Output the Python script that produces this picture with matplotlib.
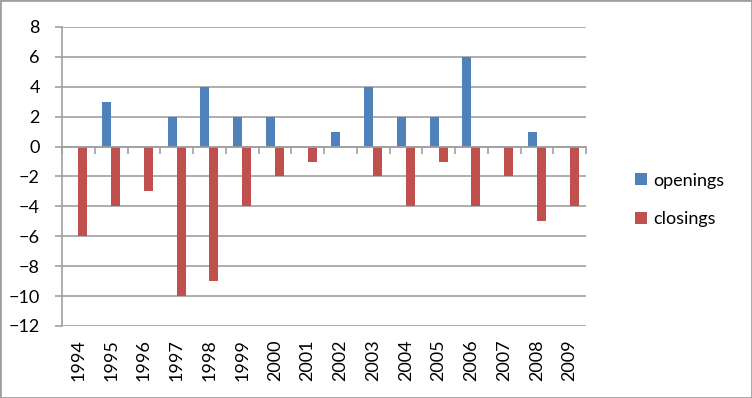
import matplotlib
matplotlib.use("Agg")
import matplotlib.pyplot as plt
from matplotlib.patches import Rectangle
import numpy as np

years = ["1994", "1995", "1996", "1997", "1998", "1999", "2000", "2001",
         "2002", "2003", "2004", "2005", "2006", "2007", "2008", "2009"]
openings = [0, 3, 0, 2, 4, 2, 2, 0, 1, 4, 2, 2, 6, 0, 1, 0]
closings = [-6, -4, -3, -10, -9, -4, -2, -1, 0, -2, -4, -1, -4, -2, -5, -4]

plt.rcParams["font.family"] = ["Lato", "DejaVu Sans"]
grid_color = "#a0a0a0"
fs = 13

fig = plt.figure(figsize=(7.52, 3.98), dpi=100)
ax = fig.add_axes([62 / 752, 1 - 326 / 398, (586 - 62) / 752, (326 - 27) / 398])

x = np.arange(len(years))
w = 0.275
ax.bar(x - w / 2, openings, w, color="#4F81BD", label="openings", zorder=3)
ax.bar(x + w / 2, closings, w, color="#C0504D", label="closings", zorder=3)

ax.set_xlim(-0.5, len(years) - 0.5)
ax.set_ylim(-12, 8)
ax.set_yticks(range(-12, 9, 2))
ax.yaxis.grid(True, color=grid_color, linewidth=1.2, zorder=0)
ax.tick_params(axis="y", length=5, width=1.2, color=grid_color, labelsize=fs, pad=11)

# category axis crosses at zero, tick marks between categories
for s in ["top", "right"]:
    ax.spines[s].set_visible(False)
ax.spines["left"].set_color(grid_color)
ax.spines["left"].set_linewidth(1.2)
ax.spines["bottom"].set_position(("data", 0))
ax.spines["bottom"].set_color(grid_color)
ax.spines["bottom"].set_linewidth(1.2)
ax.spines["bottom"].set_zorder(4)
ax.set_xticks(np.arange(len(years) + 1) - 0.5)
ax.tick_params(axis="x", length=5, width=1.2, color=grid_color, labelbottom=False)

for i, yr in enumerate(years):
    ax.text(i, -0.045, yr, transform=ax.get_xaxis_transform(), rotation=90,
            ha="center", va="top", fontsize=fs)

ax.legend(loc="center left", bbox_to_anchor=(619 / 752, 1 - 200 / 398),
          bbox_transform=fig.transFigure, frameon=False, fontsize=fs,
          handlelength=0.65, handleheight=0.65, handletextpad=0.35,
          labelspacing=1.25)

fig.patches.append(Rectangle((0, 0), 1, 1, transform=fig.transFigure,
                             fill=False, edgecolor=grid_color, linewidth=2))

fig.savefig("out.png", dpi=100)
